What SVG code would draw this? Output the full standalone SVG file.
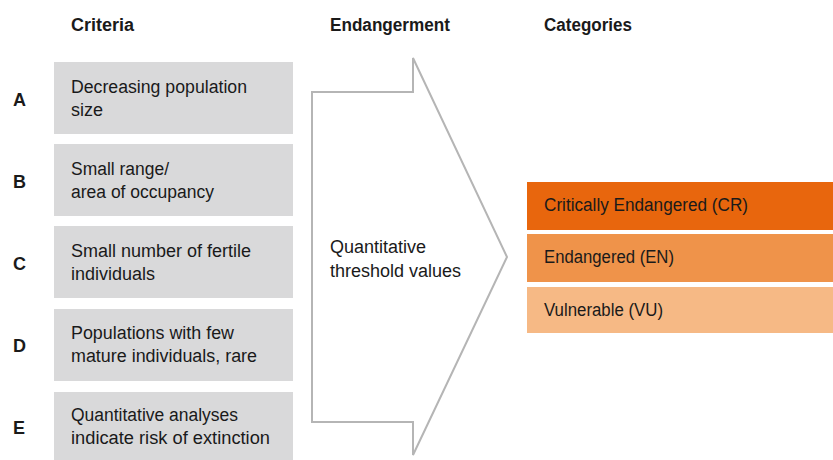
<svg xmlns="http://www.w3.org/2000/svg" width="833" height="460" viewBox="0 0 833 460">
  <style>
    text { font-family: "Liberation Sans Narrow", "Liberation Sans", Arial, sans-serif; fill: #1a1a1a; font-size: 18px; }
    .hdr { font-weight: bold; }
    .lbl { font-weight: bold; }
    .crit { fill: #d9d9da; }
    .cr { fill: #e8660d; }
    .en { fill: #ef934a; }
    .vu { fill: #f6b985; }
    .arrow { fill: #ffffff; stroke: #b5b5b5; stroke-width: 2; }
  </style>

  <!-- column headings -->
  <g id="headings">
    <text class="hdr" x="71" y="31">Criteria</text>
    <text class="hdr" x="330" y="31" textLength="120" lengthAdjust="spacingAndGlyphs">Endangerment</text>
    <text class="hdr" x="544" y="31" textLength="88" lengthAdjust="spacingAndGlyphs">Categories</text>
  </g>

  <!-- criteria A to E -->
  <g id="crit-a">
    <text class="lbl" x="13" y="106">A</text>
    <rect class="crit" x="54" y="62" width="239" height="72"/>
    <text x="71" y="93" textLength="176" lengthAdjust="spacingAndGlyphs">Decreasing population</text>
    <text x="71" y="116">size</text>
  </g>
  <g id="crit-b">
    <text class="lbl" x="13" y="188">B</text>
    <rect class="crit" x="54" y="144" width="239" height="72"/>
    <text x="71" y="175" textLength="98" lengthAdjust="spacingAndGlyphs">Small range/</text>
    <text x="71" y="198" textLength="143" lengthAdjust="spacingAndGlyphs">area of occupancy</text>
  </g>
  <g id="crit-c">
    <text class="lbl" x="13" y="270">C</text>
    <rect class="crit" x="54" y="226" width="239" height="72"/>
    <text x="71" y="257">Small number of fertile</text>
    <text x="71" y="280">individuals</text>
  </g>
  <g id="crit-d">
    <text class="lbl" x="13" y="352">D</text>
    <rect class="crit" x="54" y="309" width="239" height="72"/>
    <text x="71" y="339" textLength="163" lengthAdjust="spacingAndGlyphs">Populations with few</text>
    <text x="71" y="362" textLength="186" lengthAdjust="spacingAndGlyphs">mature individuals, rare</text>
  </g>
  <g id="crit-e">
    <text class="lbl" x="13" y="434">E</text>
    <rect class="crit" x="54" y="392" width="239" height="68"/>
    <text x="71" y="421" textLength="167" lengthAdjust="spacingAndGlyphs">Quantitative analyses</text>
    <text x="71" y="444" textLength="199" lengthAdjust="spacingAndGlyphs">indicate risk of extinction</text>
  </g>

  <!-- threshold arrow -->
  <g id="connectors">
    <path class="arrow" d="M312,92 H413 V58 L507,257 L413,455 V422 H312 Z"/>
  </g>
  <g id="threshold">
    <text x="330" y="253">Quantitative</text>
    <text x="330" y="277">threshold values</text>
  </g>

  <!-- categories -->
  <g id="cat-cr">
    <rect class="cr" x="527" y="182" width="306" height="48"/>
    <text x="544" y="211" textLength="204" lengthAdjust="spacingAndGlyphs">Critically Endangered (CR)</text>
  </g>
  <g id="cat-en">
    <rect class="en" x="527" y="234" width="306" height="48"/>
    <text x="544" y="263" textLength="130" lengthAdjust="spacingAndGlyphs">Endangered (EN)</text>
  </g>
  <g id="cat-vu">
    <rect class="vu" x="527" y="287" width="306" height="46"/>
    <text x="544" y="316" textLength="119" lengthAdjust="spacingAndGlyphs">Vulnerable (VU)</text>
  </g>
</svg>
